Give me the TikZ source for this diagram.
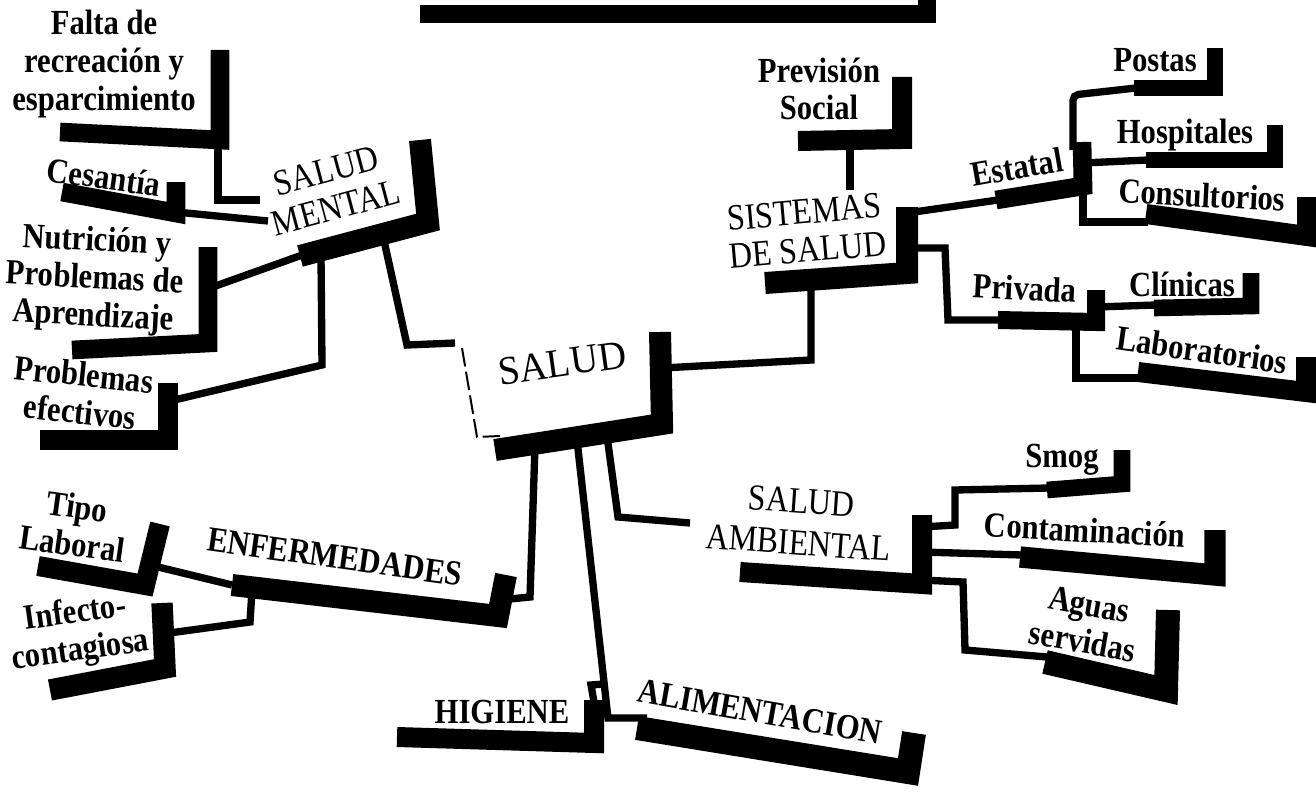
\documentclass[tikz,border=0pt]{standalone}
\usepackage{fontspec}
\setmainfont{Liberation Serif}
\tikzset{
  blot/.style={line width=14pt, line join=miter},
  wire/.style={line width=5.5pt, line join=miter},
  lbl/.style={font=\fontsize{23}{24.5}\selectfont\bfseries, align=center, inner sep=0pt, yscale=1.15},
  topic/.style={font=\fontsize{24}{25}\selectfont, align=center, inner sep=0pt, yscale=1.15},
}

\begin{document}
\begin{tikzpicture}[x=0.75pt,y=-0.75pt]
\useasboundingbox (0,0) rectangle (1316,792);
\clip (0,0) rectangle (1316,792);
% Junctions
\coordinate (falta-o) at (218,146);
\coordinate (mental-w1) at (260,200);
\coordinate (ces-o) at (176,212);
\coordinate (mental-w2) at (268,221);
\coordinate (nut-o) at (210,288);
\coordinate (mental-l) at (305,254);
\coordinate (efe-o) at (170,401);
\coordinate (mental-b) at (321,256);
\coordinate (mental-r) at (383,236);
\coordinate (salud-w) at (455,343);
\coordinate (salud-e) at (662,368);
\coordinate (sis-b) at (811,282);
\coordinate (prev-b) at (850,141);
\coordinate (sis-n) at (850,190);
\coordinate (sis-e1) at (907,213);
\coordinate (est-w) at (998,200);
\coordinate (sis-e2) at (907,248);
\coordinate (priv-w) at (1000,320);
\coordinate (est-n) at (1073,150);
\coordinate (postas-w) at (1136,88);
\coordinate (est-e) at (1083,163);
\coordinate (hosp-w) at (1148,160);
\coordinate (est-s) at (1083,190);
\coordinate (cons-w) at (1148,222);
\coordinate (priv-e) at (1096,307);
\coordinate (clin-w) at (1156,305);
\coordinate (priv-s) at (1076,322);
\coordinate (lab-w) at (1140,378);
\coordinate (salud-s1) at (535,446);
\coordinate (salud-s2) at (577,440);
\coordinate (salud-s3) at (607,436);
\coordinate (amb-w) at (690,523);
\coordinate (amb-e1) at (922,527);
\coordinate (smog-w) at (1049,488);
\coordinate (amb-e2) at (922,552);
\coordinate (cont-w) at (1022,555);
\coordinate (amb-e3) at (922,580);
\coordinate (aguas-w) at (1047,657);
\coordinate (enf-e) at (500,600);
\coordinate (tipo-e) at (150,565);
\coordinate (enf-w) at (232,585);
\coordinate (inf-e) at (162,634);
\coordinate (enf-b) at (252,590);
\coordinate (alim-w) at (647,718);
\coordinate (hig-n) at (594,702);
\coordinate (alim-j) at (604,684);
% Drawing wires
\draw[wire] (falta-o) |- (mental-w1);
\draw[wire] (ces-o) -- (mental-w2);
\draw[wire] (nut-o) -- (mental-l);
\draw[wire] (efe-o) -- (322,365) -- (mental-b);
\draw[wire] (mental-r) -- (407,345) -- (salud-w);
\draw[wire] (salud-e) -- (811,360) -- (sis-b);
\draw[wire] (prev-b) -- (sis-n);
\draw[wire] (sis-e1) -- (est-w);
\draw[wire] (sis-e2) -- (945,248) -- (948,320) -- (priv-w);
\draw[wire, rounded corners=4pt] (est-n) -- (1073,95) -- (postas-w);
\draw[wire] (est-e) -- (hosp-w);
\draw[wire] (est-s) |- (cons-w);
\draw[wire] (priv-e) -- (clin-w);
\draw[wire] (priv-s) |- (lab-w);
\draw[wire] (salud-s3) -- (618,517) -- (amb-w);
\draw[wire] (amb-e1) -- (955,525) -- (955,490) -- (smog-w);
\draw[wire] (amb-e2) -- (cont-w);
\draw[wire] (amb-e3) -- (963,582) -- (965,650) -- (aguas-w);
\draw[wire] (salud-s1) -- (530,597) -- (enf-e);
\draw[wire] (tipo-e) -- (enf-w);
\draw[wire] (inf-e) -- (250,622) -- (enf-b);
\draw[wire] (salud-s2) -- (608,718) -- (alim-w);
\draw[wire] (hig-n) -- (591,685) -- (alim-j);
% Done with wires; drawing shadows
\draw[blot, line width=13.5pt] (420,14) -- (927,14) -- (927,-5);
\draw[blot] (60,132) -- (220,140) -- (220,50);
\draw[blot] (62,192) -- (176,213) -- (176,182);
\draw[blot, line width=16.5pt] (300,256) -- (428,222) -- (420,140);
\draw[blot] (72,350) -- (208,343) -- (208,247);
\draw[blot, line width=15pt] (40,440) -- (168,440) -- (168,383);
\draw[blot, line width=15pt] (38,566) -- (145,585) -- (160,524);
\draw[blot, line width=16pt] (50,690) -- (165,668) -- (162,603);
\draw[blot, line width=16.5pt] (232,585) -- (498,616) -- (506,575);
\draw[blot, line width=15pt] (397,737) -- (594,743) -- (594,700);
\draw[blot, line width=18pt] (637,728) -- (908,772) -- (914,733);
\draw[blot, line width=16.5pt] (495,450) -- (662,424) -- (660,332);
\draw[line width=1.5pt, dash pattern=on 14pt off 4pt] (462,348) -- (477,437) -- (500,436);
\draw[blot, line width=15pt] (740,572) -- (922,584) -- (922,515);
\draw[blot, line width=16.5pt] (765,283) -- (907,273) -- (907,207);
\draw[blot, line width=15pt] (798,141) -- (902,139) -- (902,77);
\draw[blot] (996,200) -- (1083,186) -- (1082,142);
\draw[blot, line width=12pt] (1134,88) -- (1215,88) -- (1215,48);
\draw[blot, line width=12.5pt] (1146,160) -- (1275,160) -- (1275,125);
\draw[blot, line width=15pt] (1146,214) -- (1307,236) -- (1307,197);
\draw[blot, line width=13.5pt] (998,320) -- (1096,322) -- (1096,290);
\draw[blot, line width=12.5pt] (1154,308) -- (1251,306) -- (1251,273);
\draw[blot, line width=15pt] (1138,372) -- (1306,392) -- (1306,357);
\draw[blot, line width=12.5pt] (1047,490) -- (1122,484) -- (1122,450);
\draw[blot, line width=16pt] (1020,557) -- (1215,575) -- (1215,530);
\draw[blot, line width=18pt] (1045,662) -- (1166,690) -- (1168,610);
% Done with shadows; drawing labels
\node[lbl] (falta) at (104,64) {Falta de\\recreación y\\esparcimiento};
\node[rotate=-8, lbl] (cesantia) at (104,177) {Cesantía};
\node[rotate=15, topic] (mental) at (331,189) {SALUD\\MENTAL};
\node[rotate=-3, lbl] (nutricion) at (95,280) {Nutrición y\\Problemas de\\Aprendizaje};
\node[rotate=-6, lbl] (efectivos) at (82,393) {Problemas\\efectivos};
\node[rotate=-8, lbl] (tipo) at (75,525) {Tipo\\Laboral};
\node[rotate=8, lbl] (infecto) at (78,633) {Infecto-\\contagiosa};
\node[rotate=-8, lbl] (enfermedades) at (335,557) {ENFERMEDADES};
\node[lbl] (higiene) at (502,712) {HIGIENE};
\node[rotate=-10, lbl] (alimentacion) at (760,712) {ALIMENTACION};
\node[rotate=8, font=\fontsize{29}{34}\selectfont, inner sep=0pt, yscale=1.05] (salud) at (562,363) {SALUD};
\node[rotate=-4, topic, font=\fontsize{24}{27}\selectfont] (ambiental) at (800,522) {SALUD\\AMBIENTAL};
\node[rotate=5, topic] (sistemas) at (806,231) {SISTEMAS\\DE SALUD};
\node[lbl] (prevision) at (819,89) {Previsión\\Social};
\node[rotate=10, lbl] (estatal) at (1017,167) {Estatal};
\node[lbl] (postas) at (1155,60) {Postas};
\node[lbl] (hospitales) at (1185,135) {Hospitales};
\node[rotate=-3, lbl] (consultorios) at (1202,195) {Consultorios};
\node[rotate=-3, lbl] (privada) at (1025,288) {Privada};
\node[lbl] (clinicas) at (1182,284) {Clínicas};
\node[rotate=-8, lbl] (laboratorios) at (1202,350) {Laboratorios};
\node[lbl] (smog) at (1062,460) {Smog};
\node[rotate=-3, lbl] (contaminacion) at (1085,530) {Contaminación};
\node[rotate=-10, lbl] (aguas) at (1086,623) {Aguas\\servidas};
% Done with labels
\end{tikzpicture}
\end{document}
